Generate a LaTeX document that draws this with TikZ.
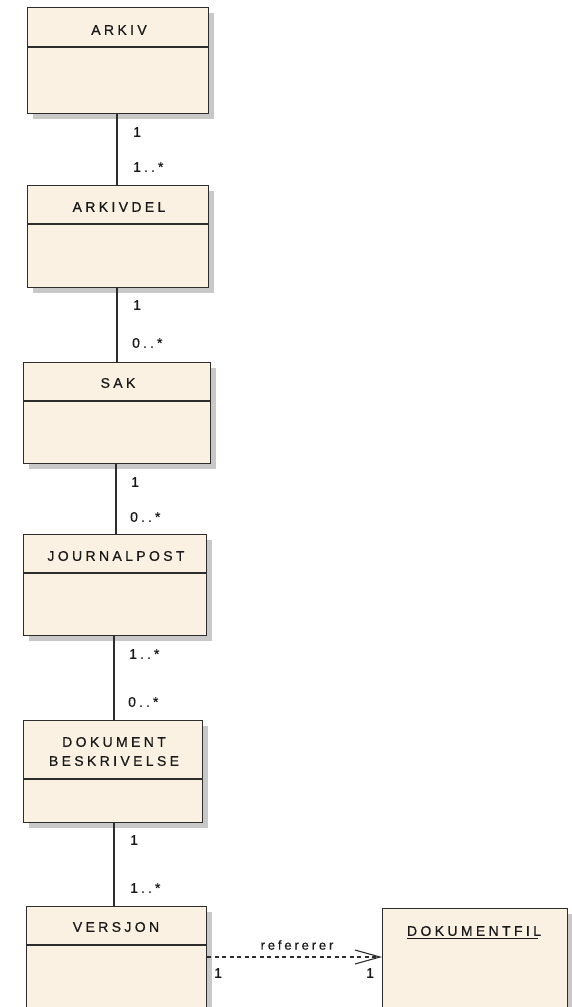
\documentclass[tikz,border=0pt]{standalone}
\usepackage{fontspec}
\usetikzlibrary{arrows.meta}
\newfontfamily\umlfont{Liberation Sans}[LetterSpace=24,FakeBold=0.6]
\newfontfamily\umlsmall{Liberation Sans}[LetterSpace=22,FakeBold=0.6]
\definecolor{boxfill}{RGB}{251,241,227}
\definecolor{boxdraw}{RGB}{45,45,45}
\definecolor{shadowc}{RGB}{200,200,200}
\newcommand{\umlbox}[6]{%
  \fill[shadowc] (#2+6,#3+6) rectangle (#4+6,#5+6);
  \node[boxst, anchor=north west, minimum width=#4-#2, minimum height=#5-#3] (#1) at (#2,#3) {};
  \ifx\relax#6\relax\else\draw[boxline] (#2,#6) -- (#4,#6);\fi
}
\begin{document}
\begin{tikzpicture}[x=1pt,y=-1pt,
  boxst/.style={draw=boxdraw, fill=boxfill, line width=1.3pt, inner sep=0pt, rectangle},
  boxline/.style={draw=boxdraw, line width=1.1pt},
  title/.style={font=\umlfont\fontsize{14}{19}\selectfont, inner sep=0pt, align=center, text=black!90},
  mult/.style={font=\umlsmall\fontsize{14}{16}\selectfont, inner sep=0pt, anchor=west, text=black!90},
  conn/.style={draw=boxdraw, line width=1.3pt},
  depend/.style={draw=boxdraw, line width=1.1pt, dash pattern=on 4pt off 3.5pt, -{Straight Barb[length=25pt,width=14pt,line width=1.1pt]}}]
\useasboundingbox (0,0) rectangle (572,1007);

% boxes
\umlbox{arkiv}{27}{7}{208}{113}{47}
\umlbox{arkivdel}{27}{185}{208}{287}{224}
\umlbox{sak}{23}{362}{210}{463}{401}
\umlbox{journal}{23}{534}{206}{635}{573}
\umlbox{dokbesk}{23}{720}{202}{822}{779}
\umlbox{versjon}{26}{906}{206}{1030}{945}
\umlbox{dokfil}{382}{908}{567}{1030}{}

% titles
\node[title] (arkivT) at (119,30) {ARKIV};
\node[title] (arkivdelT) at (119,207) {ARKIVDEL};
\node[title] (sakT) at (118,383) {SAK};
\node[title] (journalT) at (116,556) {JOURNALPOST};
\node[title] (dokbeskT) at (114,751.5) {DOKUMENT\\BESKRIVELSE};
\node[title] (versjonT) at (116,927) {VERSJON};
\node[title] (dokfilT) at (474,931) {DOKUMENTFIL};
\draw[line width=1pt, black!90] ([yshift=-2.5pt]dokfilT.base west) -- ([yshift=-2.5pt,xshift=-3pt]dokfilT.base east);

% connector x positions
\coordinate (c1) at (117,0);
\coordinate (c2) at (117,0);
\coordinate (c3) at (116,0);
\coordinate (c4) at (114,0);
\coordinate (c5) at (114,0);

\draw[conn] (arkiv.south -| c1) -- (arkivdel.north -| c1);
\draw[conn] (arkivdel.south -| c2) -- (sak.north -| c2);
\draw[conn] (sak.south -| c3) -- (journal.north -| c3);
\draw[conn] (journal.south -| c4) -- (dokbesk.north -| c4);
\draw[conn] (dokbesk.south -| c5) -- (versjon.north -| c5);

% multiplicities
\node[mult] (m1a) at (133,132) {1};
\node[mult] (m1b) at (133,167) {1..*};
\node[mult] (m2a) at (133,305) {1};
\node[mult] (m2b) at (132,343) {0..*};
\node[mult] (m3a) at (131,482) {1};
\node[mult] (m3b) at (130,517) {0..*};
\node[mult] (m4a) at (129,654) {1..*};
\node[mult] (m4b) at (128,702) {0..*};
\node[mult] (m5a) at (130,840) {1};
\node[mult] (m5b) at (130,888) {1..*};

% dependency
\coordinate (dy) at (0,957);
\draw[depend] (versjon.east |- dy) -- (dokfil.west |- dy);
\node[font=\umlsmall\fontsize{13}{15}\selectfont, inner sep=0pt, text=black!90] (refT) at (297,945) {refererer};
\node[mult] (mv) at (214,973) {1};
\node[mult] (md) at (366,973) {1};
\end{tikzpicture}
\end{document}
